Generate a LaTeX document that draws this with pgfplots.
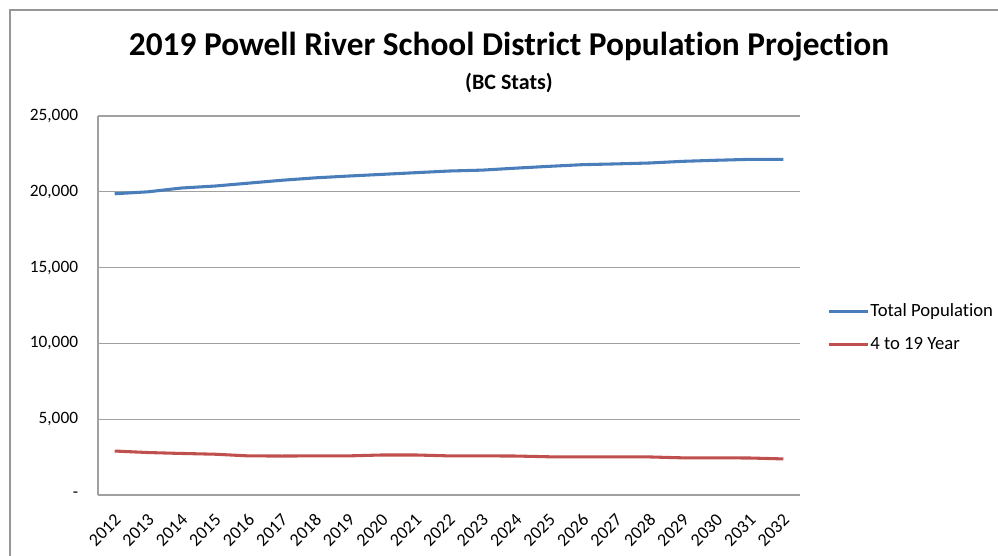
\documentclass[border=0pt]{standalone}
\usepackage{pgfplots}
\pgfplotsset{compat=1.18}
\usepackage{fontspec}
\setmainfont{Carlito}[Ligatures={NoCommon}]
\definecolor{totblue}{RGB}{74,126,187}
\definecolor{youthred}{RGB}{192,80,77}
\definecolor{gridgray}{RGB}{160,160,160}
\definecolor{framegray}{RGB}{150,150,150}

% Projection by year (index 0 = 2012)
\pgfplotstableread{
idx total youth
0  19870 2900
1  20000 2800
2  20250 2740
3  20380 2690
4  20570 2580
5  20760 2570
6  20920 2580
7  21040 2580
8  21150 2640
9  21260 2640
10 21370 2580
11 21430 2580
12 21560 2570
13 21680 2520
14 21790 2520
15 21840 2520
16 21900 2510
17 22010 2450
18 22080 2450
19 22140 2440
20 22140 2380
}\popdata

\begin{document}
\begin{tikzpicture}[x=0.75pt,y=0.75pt]
\useasboundingbox (0,0) rectangle (998,556);
% chart frame
\draw[framegray, line width=1pt] (10,-20) -- (10,546) -- (1030,546);
\node[font=\bfseries\fontsize{25}{30}\selectfont] at (509,509)
  {2019 Powell River School District Population Projection};
\node[font=\bfseries\fontsize{16.5}{19}\selectfont] at (509,473) {(BC Stats)};
\begin{axis}[
  at={(73.5pt,45.75pt)}, anchor=south west,
  scale only axis, width=526.5pt, height=284.25pt,
  xmin=-0.5, xmax=20.5, ymin=0, ymax=25000,
  axis x line*=bottom, axis y line*=left,
  axis line style={draw=gridgray, line width=0.8pt, -},
  scaled y ticks=false,
  ytick={0,5000,10000,15000,20000,25000},
  yticklabels={{-\hspace{6pt}},{5,000},{10,000},{15,000},{20,000},{25,000}},
  ymajorgrids, grid style={gridgray, line width=0.8pt},
  xtick={0,...,20},
  xticklabels={2012,2013,2014,2015,2016,2017,2018,2019,2020,2021,2022,2023,2024,2025,2026,2027,2028,2029,2030,2031,2032},
  major tick length=0pt,
  yticklabel style={font=\fontsize{13}{15}\selectfont, xshift=-11.4pt},
  % shifts act in the rotated frame of the label
  xticklabel style={font=\fontsize{13.5}{15}\selectfont, rotate=45, anchor=east,
    inner sep=0pt, xshift=-10pt, yshift=-13.3pt},
  legend style={at={(1.0385,0.4406)}, anchor=west, draw=none, fill=none,
    inner sep=0pt, font=\fontsize{14}{16}\selectfont, row sep=10pt,
    nodes={inner sep=1pt, text height=10pt, text depth=3pt}},
  legend cell align=left,
  legend image code/.code={\draw[#1] (0pt,0pt) -- (29pt,0pt);},
]
\addplot[totblue, line width=2.3pt, line join=round] table[x=idx, y=total] {\popdata};
\addlegendentry{Total Population}
\addplot[youthred, line width=2.3pt, line join=round] table[x=idx, y=youth] {\popdata};
\addlegendentry{4 to 19 Year}
\end{axis}
\end{tikzpicture}
\end{document}
